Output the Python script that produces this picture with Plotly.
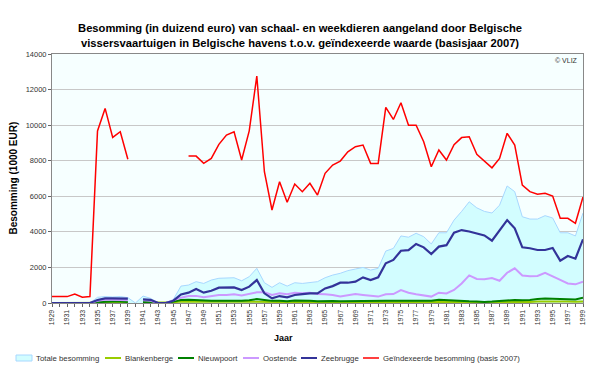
import plotly.graph_objects as go

years = list(range(1929, 2000))

totaal = [0, 0, 0, 0, 0, 0, 320, 360, 340, 360, 300,
          0, 390, 260, 0, 0, 200, 950, 1010, 1200, 1100, 1290, 1390, 1390, 1420, 1250,
          1480, 1950, 1140, 880, 1140, 950, 1140, 1100, 1140, 1200,
          1420, 1570, 1670, 1820, 1910, 2000, 1850, 1950, 2920, 3070,
          3770, 3700, 3920, 3730, 3320, 3950, 3950, 4660, 5150, 5690,
          5350, 5150, 5060, 5500, 6580, 6260, 4850, 4720, 4720, 4910,
          4780, 3950, 3950, 3770, 5060]

blankenberge = [0, 0, 0, 0, 0, 0, 20, 30, 30, 30, 20,
                None, 20, 20, 0, 0, 40, 80, 90, 80, 70, 70, 70, 70, 70, 70,
                80, 100, 80, 60, 60, 50, 60, 60, 60, 50,
                50, 50, 50, 50, 50, 60, 50, 50, 60, 60,
                60, 50, 50, 50, 60, 70, 60, 60, 60, 50,
                40, 30, 40, 50, 60, 70, 60, 60, 80, 90,
                90, 80, 80, 70, 90]

nieuwpoort = [0, 0, 0, 0, 0, 0, 50, 80, 80, 80, 60,
              None, 50, 50, 0, 0, 80, 170, 180, 150, 120, 120, 130, 120, 130, 130,
              150, 220, 170, 120, 130, 100, 140, 150, 130, 100,
              120, 110, 100, 110, 120, 130, 120, 120, 130, 120,
              120, 110, 110, 120, 130, 180, 150, 130, 120, 100,
              90, 60, 80, 110, 150, 170, 160, 170, 230, 260,
              240, 230, 240, 200, 300]

oostende = [0, 0, 0, 0, 0, 0, 120, 180, 180, 180, 150,
            None, 150, 120, 0, 0, 150, 300, 390, 400, 320, 390, 450, 450, 490, 420,
            490, 600, 600, 450, 545, 490, 580, 550, 580, 500,
            490, 450, 360, 450, 500, 450, 400, 360, 490, 500,
            730, 580, 490, 420, 360, 580, 540, 730, 1100, 1550,
            1350, 1330, 1400, 1250, 1700, 1950, 1550, 1500, 1520, 1700,
            1520, 1300, 1100, 1050, 1200]

zeebrugge = [0, 0, 0, 0, 0, 0, 170, 260, 260, 260, 250,
             None, 200, 180, 0, 0, 130, 480, 580, 790, 580, 690, 860, 860, 880, 730,
             920, 1290, 545, 260, 390, 320, 450, 500, 545, 545,
             820, 950, 1140, 1140, 1200, 1440, 1290, 1440, 2230, 2420,
             2940, 2970, 3320, 3130, 2750, 3170, 3250, 3950, 4100, 4020,
             3900, 3800, 3500, 4100, 4660, 4200, 3130, 3080, 2980, 2980,
             3090, 2380, 2640, 2490, 3580]

geindexeerd = [360, 360, 360, 500, 320, 360, 9670, 10940, 9310, 9630, 8080,
               None, None, None, None, None, None, None, 8260, 8260, 7850, 8130, 8920, 9440, 9630, 8040,
               9680, 12760, 7380, 5230, 6820, 5660, 6690, 6260, 6730, 6070,
               7290, 7760, 7980, 8500, 8790, 8880, 7850, 7850, 11000, 10320,
               11260, 10000, 10000, 9070, 7660, 8600, 8040, 8900, 9300, 9350,
               8360, 7980, 7600, 8130, 9540, 8880, 6630, 6260, 6110, 6170,
               6010, 4760, 4760, 4480, 5960]

tick_years = list(range(1929, 2000, 2))

series_names = ["Totale besomming", "Blankenberge", "Nieuwpoort", "Oostende",
                "Zeebrugge", "Geïndexeerde besomming (basis 2007)"]
series_colors = ["#a8d8ff", "#99cc00", "#008000", "#cc99ff", "#333399", "#ff0000"]
fill_color = "#d2fdff"

font_main = "Liberation Sans"

# The page body has an 8px default margin: lay the figure out in page pixels
# and subtract that offset.
OFF = 8
FW, FH = 600 - OFF, 368 - OFF
L, R, T, B = 52 - OFF, 583 - OFF, 54 - OFF, 303 - OFF
W, H = R - L, B - T


def px(xp):
    """page pixel x -> paper coordinate"""
    return (xp - OFF - L) / W


def py(yp):
    """page pixel y -> paper coordinate"""
    return (B - (yp - OFF)) / H


fig = go.Figure()
fig.add_trace(go.Scatter(x=years, y=totaal, name=series_names[0], mode="lines",
                         fill="tozeroy", fillcolor=fill_color,
                         line=dict(color=series_colors[0], width=1)))
fig.add_trace(go.Scatter(x=years, y=blankenberge, name=series_names[1], mode="lines",
                         line=dict(color=series_colors[1], width=2)))
fig.add_trace(go.Scatter(x=years, y=nieuwpoort, name=series_names[2], mode="lines",
                         line=dict(color=series_colors[2], width=2)))
fig.add_trace(go.Scatter(x=years, y=oostende, name=series_names[3], mode="lines",
                         line=dict(color=series_colors[3], width=2)))
fig.add_trace(go.Scatter(x=years, y=zeebrugge, name=series_names[4], mode="lines",
                         line=dict(color=series_colors[4], width=2.2)))
fig.add_trace(go.Scatter(x=years, y=geindexeerd, name=series_names[5],
                         mode="lines", line=dict(color=series_colors[5], width=1.5)))

fig.update_layout(
    width=FW, height=FH,
    margin=dict(l=L, r=FW - R, t=T, b=FH - B, autoexpand=False),
    paper_bgcolor="white",
    plot_bgcolor="#f6ffff",
    font=dict(family=font_main, size=8, color="#222"),
    title=dict(text="<b>Besomming (in duizend euro) van schaal- en weekdieren aangeland door Belgische<br>vissersvaartuigen in Belgische havens t.o.v. geïndexeerde waarde (basisjaar 2007)</b>",
               x=(300 - OFF) / FW, xanchor="center",
               y=1 - (32 - OFF) / FH, yanchor="middle",
               font=dict(family=font_main, size=11.2, color="#000")),
    showlegend=False,
    xaxis=dict(range=[1929, 1999], tickmode="array", tickvals=tick_years,
               ticktext=[str(y) for y in tick_years], tickangle=-90,
               tickfont=dict(size=7, color="#333"), ticks="outside", ticklen=3,
               tickcolor="#666",
               minor=dict(dtick=1, tick0=1929, ticks="outside", ticklen=3, tickcolor="#666"),
               showgrid=False, showline=True, linecolor="#888", mirror=True, zeroline=False),
    yaxis=dict(range=[0, 14000], dtick=2000, tickformat="d",
               tickfont=dict(size=7.5, color="#333"),
               ticks="outside", ticklen=3, tickcolor="#666",
               showgrid=True, gridcolor="#c8c8c8", gridwidth=1,
               showline=True, linecolor="#888", mirror=True, zeroline=False),
)

# axis titles
fig.add_annotation(text="<b>Besomming (1000 EUR)</b>", xref="paper", yref="paper",
                   x=px(13), y=0.5, textangle=-90, showarrow=False,
                   xanchor="center", yanchor="middle",
                   font=dict(family=font_main, size=10, color="#000"))
fig.add_annotation(text="<b>Jaar</b>", xref="paper", yref="paper",
                   x=px(283), y=py(338), showarrow=False,
                   xanchor="center", yanchor="middle",
                   font=dict(family=font_main, size=9, color="#000"))

fig.add_annotation(text="© VLIZ", xref="paper", yref="paper", x=0.995, y=0.995,
                   xanchor="right", yanchor="top", showarrow=False,
                   font=dict(family=font_main, size=7, color="#333"))

# manual legend (one row, short symbols like the reference)
leg_y = 358
sym_x = [16, 105, 178, 243, 301, 363]
shapes = []
for i, (name, col) in enumerate(zip(series_names, series_colors)):
    x0 = sym_x[i]
    if i == 0:
        shapes.append(dict(type="rect", xref="paper", yref="paper",
                           x0=px(x0), x1=px(x0 + 16), y0=py(leg_y + 3), y1=py(leg_y - 3),
                           fillcolor=fill_color, line=dict(color=col, width=1)))
    else:
        shapes.append(dict(type="line", xref="paper", yref="paper",
                           x0=px(x0), x1=px(x0 + 16), y0=py(leg_y), y1=py(leg_y),
                           line=dict(color=col, width=2 if i < 5 else 1.5)))
    fig.add_annotation(text=name, xref="paper", yref="paper",
                       x=px(x0 + 18), y=py(leg_y), xanchor="left", yanchor="middle",
                       showarrow=False,
                       font=dict(family=font_main, size=7.8, color="#333"))
fig.update_layout(shapes=shapes)

fig.write_html("out.html")
